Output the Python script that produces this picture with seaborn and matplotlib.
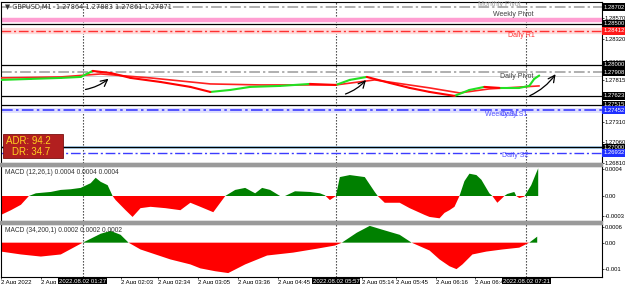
import numpy as np
import pandas as pd
import matplotlib
matplotlib.use("Agg")
import matplotlib.pyplot as plt
from matplotlib.patches import Rectangle
import seaborn as sns

# ---------------- data ----------------
title_text = "GBPUSD,M1  1.27864 1.27883 1.27861 1.27871"

price_bar = [0, 30, 60, 80, 92, 100, 110, 130, 160, 190, 210, 230, 250, 280, 310, 336,
             350, 367, 390, 410, 430, 455, 470, 485, 500, 520, 530, 535, 540]
price = [1.27818, 1.27830, 1.27842, 1.27854, 1.27927, 1.27915, 1.27902, 1.27842, 1.27793,
         1.27733, 1.27672, 1.27696, 1.27733, 1.27745, 1.27769, 1.27757, 1.27818, 1.27854,
         1.27781, 1.27721, 1.27672, 1.27624, 1.27696, 1.27733, 1.27721, 1.27721, 1.27745,
         1.27830, 1.27871]

ma_bar = [0, 60, 100, 150, 210, 260, 336, 375, 430, 460, 490, 540]
ma_price = [1.27842, 1.27854, 1.27890, 1.27842, 1.27769, 1.27757, 1.27757, 1.27818,
            1.27721, 1.27660, 1.27709, 1.27745]

bid_price = 1.27871
monthly_pivot = 1.28702
weekly_band = 1.28540
daily_r1 = 1.28412
daily_pivot = 1.27908
weekly_daily_s1 = 1.27452
daily_s2 = 1.26932
round_levels = [1.28500, 1.28000, 1.27623, 1.27515, 1.27000]

plain_ticks = [1.28570, 1.28320, 1.28030, 1.27815, 1.27310, 1.27060, 1.26810]
black_boxes = [1.28702, 1.28500, 1.28000, 1.27908, 1.27623, 1.27515, 1.27000]
red_boxes = [1.28412]
blue_boxes = [1.27452, 1.26932]

vlines_bar = [82, 336, 527]
vline_labels = ["2022.08.02 01:27", "2022.08.02 05:57", "2022.08.02 07:21"]

arrow_start_bar = [82, 343, 528]
arrow_start_price = [1.27696, 1.27636, 1.27612]
arrow_end_bar = [110, 368, 558]
arrow_end_price = [1.27854, 1.27842, 1.27915]

macd1_bar = [0, 10, 20, 28, 35, 50, 60, 70, 80, 90, 95, 100, 107, 112, 115, 125, 132, 140,
             150, 165, 180, 190, 200, 213, 225, 235, 245, 255, 262, 270, 280, 285, 295, 310,
             320, 325, 330, 336, 340, 350, 365, 375, 378, 385, 400, 410, 425, 430, 440, 445,
             450, 455, 460, 465, 470, 477, 482, 490, 493, 498, 503, 505, 508, 515, 517, 520,
             525, 527, 532, 537, 539]
macd1_e5 = [-28, -21, -13, 0, 4, 6, 9, 10, 12, 19, 27, 21, 16, 0, -6, -21, -31, -18, -16,
            -18, -21, -10, -16, -24, 0, 9, 12, 4, 12, 9, 0, 0, 7, 6, 4, 1, -6, 0, 28, 31, 28,
            6, 0, -10, -10, -18, -28, -31, -33, -25, -21, -16, 0, 22, 33, 31, 24, 4, 0, -10,
            -3, 0, 3, 6, 0, -3, -1, 4, 16, 34, 41]

macd2_bar = [0, 20, 40, 60, 82, 90, 100, 110, 120, 128, 140, 170, 190, 200, 215, 228, 245,
             267, 293, 317, 335, 342, 357, 370, 383, 400, 412, 430, 440, 450, 457, 463, 473,
             487, 503, 520, 530, 538]
macd2_e5 = [-34, -45, -53, -45, 0, 15, 34, 45, 30, 0, -26, -64, -83, -98, -109, -116, -83,
            -49, -38, -23, -11, 0, 38, 64, 49, 30, 0, -30, -64, -90, -101, -83, -45, -34, -26,
            -19, 0, 23]

macd1_ticks = [0.0004, 0.0, -0.0003]
macd1_ticklabels = ["0.0004", "0.00", "-0.0003"]
macd2_ticks = [0.0006, 0.0, -0.001]
macd2_ticklabels = ["0.0006", "0.00", "-0.001"]

time_bar = [0, 40, 120, 158, 198, 238, 278, 362, 396, 436, 476]
time_labels = ["2 Aug 2022", "2 Aug", "2 Aug 02:03", "2 Aug 02:34", "2 Aug 03:05",
               "2 Aug 03:36", "2 Aug 04:45", "2 Aug 05:14", "2 Aug 05:45", "2 Aug 06:16",
               "2 Aug 06:47"]

# ---------------- figure ----------------
sns.set_theme(style="white")
plt.rcParams["font.family"] = ["Liberation Sans", "DejaVu Sans"]

W, H = 625, 284
fig = plt.figure(figsize=(W / 100, H / 100), dpi=100, facecolor="white")


def rect(x0, y0, x1, y1):
    return [x0 / W, 1 - y1 / H, (x1 - x0) / W, (y1 - y0) / H]


ax = fig.add_axes(rect(1, 2, 602, 163))
ax1 = fig.add_axes(rect(1, 166, 602, 221))
ax2 = fig.add_axes(rect(1, 224, 602, 277))

for y0 in (163, 221):
    fig.patches.append(Rectangle((0, 1 - (y0 + 3) / H), 602 / W, 3 / H,
                                 transform=fig.transFigure, color="#9a9a9a", zorder=0))

FS = 4.8
XFS = 4.3
RFS = 4.2
DASH = (7, 2, 1.5, 2)

for a in (ax, ax1, ax2):
    a.set_xlim(0, 603)
    a.set_facecolor("white")
    for s in a.spines.values():
        s.set_color("black")
        s.set_linewidth(0.8)
    a.yaxis.tick_right()
    a.tick_params(axis="y", length=1.5, width=0.5, pad=0.6, labelsize=RFS, colors="black",
                  direction="out", right=True)
    a.tick_params(axis="x", bottom=False, labelbottom=False)
    for b in vlines_bar:
        a.axvline(b, color="#333333", ls=(0, (1.2, 1.5)), lw=0.8, zorder=1)

# ---------------- main panel ----------------
ax.set_ylim(1.26810, 1.28763)

ax.axhline(monthly_pivot, color="#9a9a9a", lw=1.1, dashes=DASH)
ax.axhline(weekly_band, color="#ff9ed2", lw=3.2)
ax.axhline(daily_r1, color="#ffd9d9", lw=4.5)
ax.axhline(daily_r1, color="#ff3030", lw=1.0, dashes=DASH)
ax.axhline(daily_pivot, color="#9a9a9a", lw=1.1, dashes=DASH)
ax.axhline(bid_price, color="#c8c8c8", lw=0.6)
ax.axhline(weekly_daily_s1, color="#dcdcff", lw=3.5)
ax.axhline(weekly_daily_s1, color="#3c3cff", lw=1.2, dashes=DASH)
ax.axhline(1.27008, color="#a8d0f0", lw=2.0)
ax.axhline(daily_s2, color="#3c3cff", lw=1.0, dashes=DASH)
for lv in round_levels:
    ax.axhline(lv, color="black", lw=0.9)

rows = []
for i in range(len(price_bar) - 1):
    d = "up" if price[i + 1] >= price[i] else "down"
    rows.append(dict(bar=price_bar[i], price=price[i], seg=i, dir=d))
    rows.append(dict(bar=price_bar[i + 1], price=price[i + 1], seg=i, dir=d))
seg_df = pd.DataFrame(rows)
sns.lineplot(x=ma_bar, y=ma_price, color="#ff2020", lw=1.2, ax=ax, zorder=3)
sns.lineplot(data=seg_df, x="bar", y="price", hue="dir", units="seg", estimator=None,
             palette={"up": "#22e022", "down": "#ff0000"}, lw=1.5, legend=False, ax=ax,
             zorder=4)

for sb, sp, eb, ep in zip(arrow_start_bar, arrow_start_price, arrow_end_bar, arrow_end_price):
    ax.annotate("", xy=(eb, ep), xytext=(sb, sp),
                arrowprops=dict(arrowstyle="->", color="black", lw=0.9,
                                connectionstyle="arc3,rad=0.15"), zorder=5)

ax.set_yticks(plain_ticks)
ax.set_yticklabels([f"{v:.5f}" for v in plain_ticks])
ax.set_xticks([])
ax.set_xlabel("")
ax.set_ylabel("")

ytr = ax.get_yaxis_transform()
for vals, fc in ((black_boxes, "black"), (red_boxes, "#ff1a1a"), (blue_boxes, "#1f2fff")):
    for v in vals:
        ax.text(1.0025, v, f"{v:.5f}", transform=ytr, fontsize=RFS, color="white",
                ha="left", va="center", clip_on=False,
                bbox=dict(boxstyle="square,pad=0.2", fc=fc, ec="none"))

ax.text(500, 1.28738, "Monthly Pivot", fontsize=5, color="#a0a0a0", ha="center", va="center")
ax.text(514, 1.28617, "Weekly Pivot", fontsize=5, color="#404040", ha="center", va="center")
ax.text(522, 1.28351, "Daily R1", fontsize=5, color="#ff3030", ha="center", va="center")
ax.text(517, 1.27854, "Daily Pivot", fontsize=5, color="#404040", ha="center", va="center")
ax.text(502, 1.27400, "Weekly S1", fontsize=5, color="#5050ff", ha="center", va="center")
ax.text(515, 1.27400, "Daily S1", fontsize=5, color="#5050ff", ha="center", va="center")
ax.text(516, 1.26897, "Daily S2", fontsize=5, color="#5050ff", ha="center", va="center")

ax.text(0.006, 0.97, "\u25bc " + title_text, transform=ax.transAxes, fontsize=FS,
        color="#333333", ha="left", va="center", family=["DejaVu Sans"])

fig.patches.append(Rectangle((3 / W, 1 - 158 / H), 60 / W, 24 / H, transform=fig.transFigure,
                             fc="#b21f1f", ec="#7a1010", lw=0.6, zorder=6))
fig.text(6 / W, 1 - 141 / H, "ADR: 94.2", fontsize=7, color="#ffd21f", ha="left",
         va="center", zorder=7)
fig.text(12 / W, 1 - 152 / H, "DR: 34.7", fontsize=7, color="#ffd21f", ha="left",
         va="center", zorder=7)

# ---------------- MACD panels ----------------
def hist(a, bars, vals_e5, lims, ticks, labels, title):
    v = np.array(vals_e5) * 1e-5
    a.fill_between(bars, v, 0, where=v >= 0, interpolate=True, color="#008000", lw=0)
    a.fill_between(bars, v, 0, where=v <= 0, interpolate=True, color="#ff0000", lw=0)
    a.set_ylim(*lims)
    a.set_yticks(ticks)
    a.set_yticklabels(labels)
    a.text(0.006, 0.88, title, transform=a.transAxes, fontsize=FS, color="#333333",
           ha="left", va="center")


hist(ax1, macd1_bar, macd1_e5, (-0.00037, 0.000444), macd1_ticks, macd1_ticklabels,
     "MACD (12,26,1) 0.0004 0.0004 0.0004")
hist(ax2, macd2_bar, macd2_e5, (-0.00131, 0.000712), macd2_ticks, macd2_ticklabels,
     "MACD (34,200,1) 0.0002 0.0002 0.0002")

ax2.set_xticks(time_bar)
ax2.set_xticklabels(time_labels)
ax2.tick_params(axis="x", bottom=True, labelbottom=True, length=1.5, width=0.5, pad=0.4,
                labelsize=XFS, colors="black")
for t in ax2.get_xticklabels():
    t.set_ha("left")

for b, lab in zip(vlines_bar, vline_labels):
    ax2.annotate(lab, xy=(b, 0), xycoords=ax2.get_xaxis_transform(), xytext=(0, -1.2),
                 textcoords="offset points", fontsize=XFS, color="white", ha="center",
                 va="top", annotation_clip=False, zorder=10,
                 bbox=dict(boxstyle="square,pad=0.15", fc="black", ec="none"))

fig.savefig("out.png", dpi=100, facecolor="white")
